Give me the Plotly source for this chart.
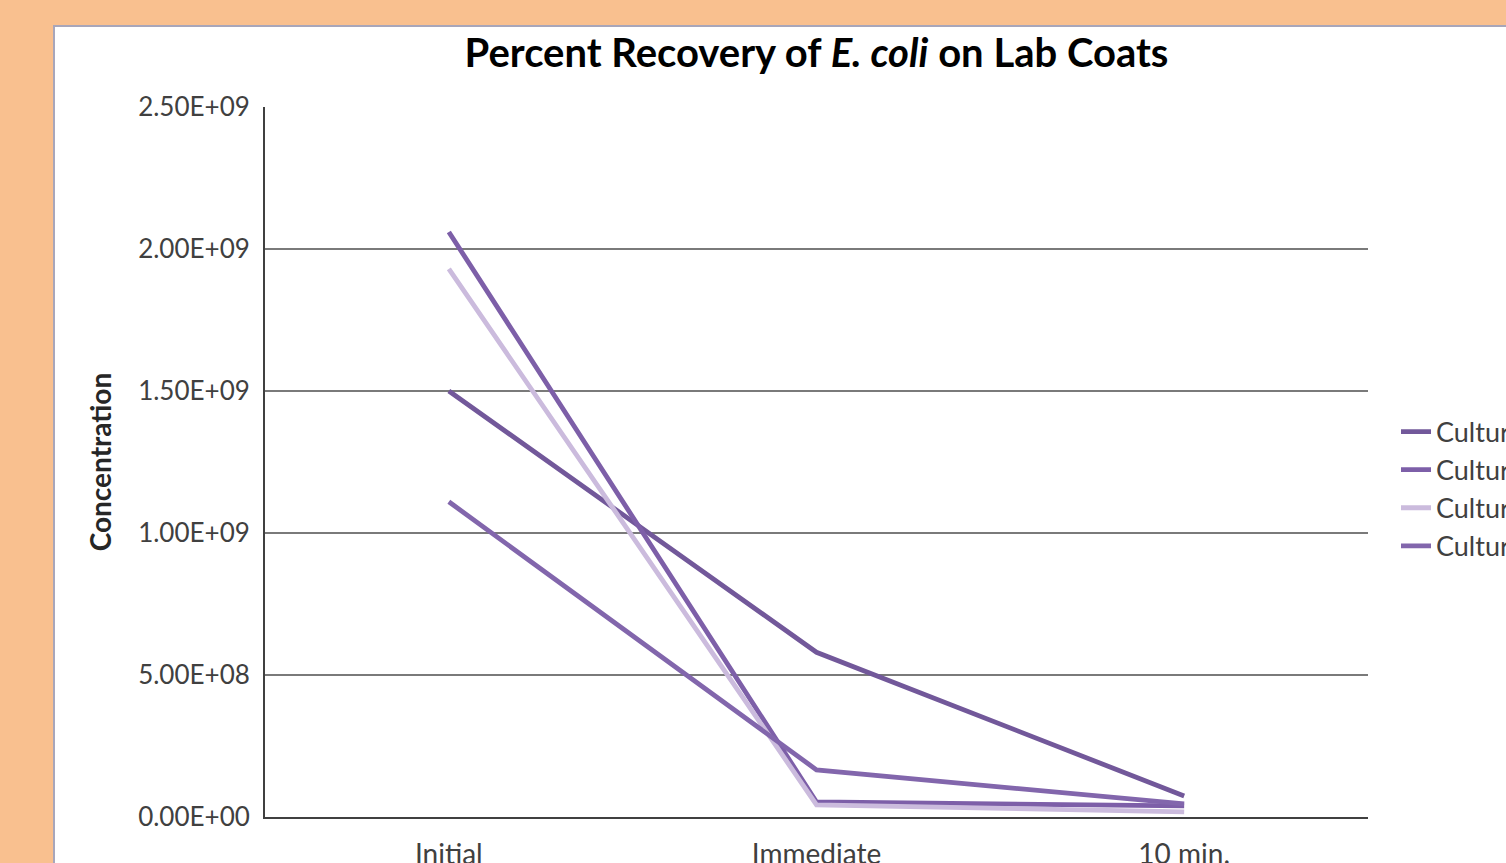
import plotly.graph_objects as go

# ---- data ----
categories = ["Initial", "Immediate", "10 min."]
series_names = ["Culture 1", "Culture 2", "Culture 3", "Culture 4"]
culture_1 = [1.50e9, 5.80e8, 7.4e7]
culture_2 = [2.06e9, 5.3e7, 3.9e7]
culture_3 = [1.93e9, 4.3e7, 1.8e7]
culture_4 = [1.11e9, 1.66e8, 4.6e7]
y_tickvals = [0, 5e8, 1.0e9, 1.5e9, 2.0e9, 2.5e9]
y_ticktext = ["0.00E+00", "5.00E+08", "1.00E+09", "1.50E+09", "2.00E+09", "2.50E+09"]

colors = ["#72589A", "#7D5FA8", "#CBBBDD", "#8266AC"]
series_values = [culture_1, culture_2, culture_3, culture_4]

BG = "#F9C08F"
W, H = 1506, 863
ML, MR, MT, MB = 265, 1506 - 1368, 107, 863 - 817
pw, ph = W - ML - MR, H - MT - MB


def px_x(vx):
    return (vx - ML) / pw


def px_y(vy):
    return (H - MB - vy) / ph


FONT = "Lato"
fig = go.Figure()
for i, (name, vals) in enumerate(zip(series_names, series_values)):
    fig.add_trace(go.Scatter(
        x=categories, y=vals, name=name, mode="lines",
        line=dict(color=colors[i], width=4.8),
        legendgroup=name,
    ))

fig.update_layout(
    width=W, height=H,
    margin=dict(l=ML, r=MR, t=MT, b=MB, autoexpand=False),
    paper_bgcolor=BG,
    plot_bgcolor="white",
    font=dict(family=FONT, color="#404040"),
    title=dict(
        text="<b>Percent Recovery of <i>E. coli</i> on Lab Coats</b>",
        x=0.5, xref="paper", xanchor="center",
        y=1 - 53 / H, yanchor="middle",
        font=dict(family=FONT, size=40, color="black"),
    ),
    showlegend=True,
    legend=dict(
        x=px_x(1396), xanchor="left",
        y=px_y(489), yanchor="middle",
        font=dict(family=FONT, size=27, color="#404040"),
        bgcolor="rgba(0,0,0,0)",
        traceorder="grouped",
        tracegroupgap=0,
        itemwidth=30,
    ),
    shapes=[dict(
        type="rect", xref="paper", yref="paper", layer="below",
        x0=px_x(54), x1=px_x(1560), y0=px_y(26), y1=px_y(900),
        fillcolor="white", line=dict(color="#A8A6BA", width=2),
    )],
)

fig.update_xaxes(
    type="category", range=[-0.5, 2.5],
    showgrid=False, showline=True, linecolor="#404040", linewidth=2,
    ticks="", ticklabelstandoff=11,
    tickfont=dict(family=FONT, size=28, color="#404040"),
)
fig.update_yaxes(
    range=[0, 2.5e9],
    tickmode="array", tickvals=y_tickvals, ticktext=y_ticktext,
    showgrid=True, gridcolor="#7A7A7A", gridwidth=2,
    showline=True, linecolor="#404040", linewidth=2,
    zeroline=False, ticks="", ticklabelstandoff=8,
    tickfont=dict(family=FONT, size=26, color="#404040"),
    title=dict(text="<b>Concentration</b>", standoff=18,
               font=dict(family=FONT, size=28, color="#262626")),
)

fig.write_html(
    "out.html",
    config={"displayModeBar": False},
    post_script=f"document.body.style.margin='0';"
                f"document.body.style.overflow='hidden';"
                f"document.body.style.backgroundColor='{BG}';",
)
